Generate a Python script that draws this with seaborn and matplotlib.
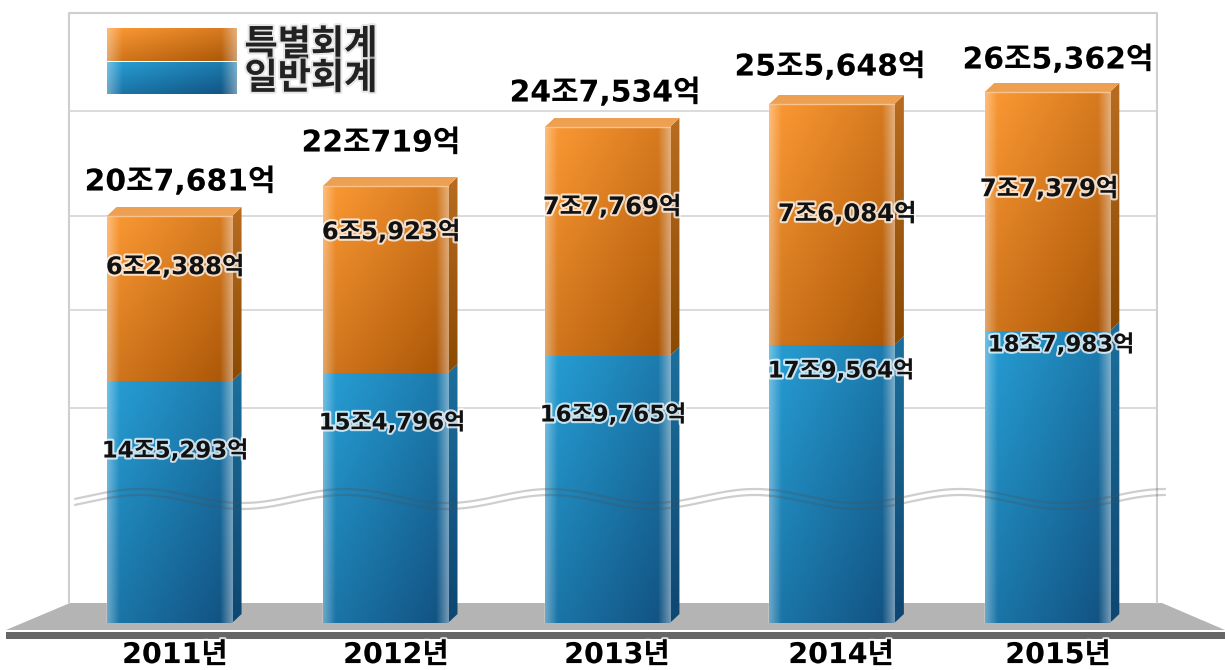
import matplotlib
matplotlib.use('Agg')
import matplotlib.pyplot as plt
import matplotlib.patheffects as pe
from matplotlib.patches import Polygon
import numpy as np
import pandas as pd
import seaborn as sns

years = ['2011년', '2012년', '2013년', '2014년', '2015년']
# the picture is not drawn to scale, so bar heights are read off the picture
general_height = [242, 250, 267, 278, 292]
special_height = [165, 187, 229, 241, 239]
general_labels = ['14조5,293억', '15조4,796억', '16조9,765억', '17조9,564억', '18조7,983억']
special_labels = ['6조2,388억', '6조5,923억', '7조7,769억', '7조6,084억', '7조7,379억']
total_labels = ['20조7,681억', '22조719억', '24조7,534억', '25조5,648억', '26조5,362억']
legend_names = ['특별회계', '일반회계']

W, H = 1225, 670
ORANGE = ('#fd9a35', '#a95506', '#b86c20', '#8a4a02')
BLUE = ('#27a0d6', '#11507f', '#1c6f9c', '#0e4670')
FONT = ['DejaVu Sans', 'Noto Sans CJK KR']

sns.set_theme(style='white')
plt.rcParams['font.family'] = FONT
plt.rcParams['font.weight'] = 'bold'


def rgb(c):
    return np.array(matplotlib.colors.to_rgb(c))


def face_image(c1, c2, fade=0.1, n=200):
    # diagonal gradient with pale left and right edges
    xx, yy = np.meshgrid(np.linspace(0, 1, n), np.linspace(0, 1, n))
    t = (0.5 * xx + 0.5 * yy)[..., None]
    img = rgb(c1) * (1 - t) + rgb(c2) * t
    left = np.clip(1 - xx / fade, 0, 1)[..., None] * 0.35
    right = np.clip((xx - (1 - fade)) / fade, 0, 1)[..., None] * 0.42
    glow = np.maximum(left, right)
    return img * (1 - glow) + glow


def side_image(c1, c2):
    t = np.linspace(0, 1, 100)[:, None, None]
    return rgb(c1) * (1 - t) + rgb(c2) * t


fig = plt.figure(figsize=(W / 100, H / 100), dpi=100)

# wall and floor, in picture pixels
bg = fig.add_axes([0, 0, 1, 1], zorder=0)
bg.set_xlim(0, W)
bg.set_ylim(H, 0)
bg.axis('off')
bg.plot([69, 69, 1157, 1157], [603, 13, 13, 603], color='#cfcfcf', lw=1.5)
bg.add_patch(Polygon([(70, 603), (1162, 603), (1225, 630), (6, 630)], color='#b4b4b4', lw=0))
bg.add_patch(Polygon([(6, 632), (1225, 632), (1225, 639), (6, 639)], color='#666666', lw=0))

# bars
ax = fig.add_axes([69 / W, (H - 623) / H, (1157 - 69) / W, 610 / H], zorder=1)
ax.patch.set_alpha(0)
df = pd.DataFrame({'year': years, 'general': general_height, 'special': special_height})
sns.barplot(data=df, x='year', y='general', color=BLUE[0], width=0.57, ax=ax)
sns.barplot(data=df, x='year', y='special', bottom=df['general'], color=ORANGE[0], width=0.57, ax=ax)
xlim = (-0.458, 4.5)
ylim = (0, 610)

px = 219.4  # pixels per category
bar_nudge = [0, -3.5, -1, 4, 0]
dx = 9.5 / px
dy = 9
for n, bar in enumerate(ax.patches):
    colors = BLUE if n < len(years) else ORANGE
    bar.set_x(bar.get_x() + bar_nudge[n % len(years)] / px)
    x0, x1 = bar.get_x(), bar.get_x() + bar.get_width()
    y0, y1 = bar.get_y(), bar.get_y() + bar.get_height()
    ax.imshow(face_image(colors[0], colors[1]), extent=(x0, x1, y0, y1), aspect='auto', zorder=3)
    # right side of the box
    side = Polygon([(x1, y0), (x1 + dx, y0 + dy), (x1 + dx, y1 + dy), (x1, y1)],
                   transform=ax.transData, lw=0, fc='none')
    ax.add_patch(side)
    im = ax.imshow(side_image(colors[2], colors[3]), extent=(x1, x1 + dx, y0, y1 + dy),
                   aspect='auto', zorder=2.5 + n * 0.01)
    im.set_clip_path(side)
    # top of the box, only the upper one shows
    if n >= len(years):
        ax.add_patch(Polygon([(x0, y1), (x0 + dx, y1 + dy), (x1 + dx, y1 + dy), (x1, y1)],
                             fc='#eda052', lw=0, zorder=3))
        ax.plot([x0, x1], [y1, y1], color='#f9c48c', lw=1, zorder=3.5)

ax.set_xticks([(x - 169.5) / px for x in (175, 396, 617, 841, 1058)], years)
ax.set_xlim(xlim)
ax.set_ylim(ylim)
ax.set_xlabel('')
ax.set_ylabel('')
ax.set_yticks([215, 313, 407, 512])
ax.set_yticklabels([])
ax.grid(axis='y', color='#d4d4d4', lw=1.2)
ax.set_axisbelow(True)
sns.despine(ax=ax, left=True, bottom=True)
halo = [pe.withStroke(linewidth=3, foreground='white', alpha=0.75)]
ax.tick_params(axis='x', length=0, pad=13)
for lab in ax.get_xticklabels():
    lab.set_fontsize(20.5)
    lab.set_fontweight('bold')
    lab.set_color('black')
    lab.set_path_effects(halo)

# wave, legend and value labels, in picture pixels
top = fig.add_axes([0, 0, 1, 1], zorder=2)
top.set_xlim(0, W)
top.set_ylim(H, 0)
top.axis('off')
top.patch.set_alpha(0)

wx = np.linspace(75, 1165, 400)
wy = 496 - 7 * np.cos(2 * np.pi * (wx - 140) / 205)
for off in (0, 6):
    top.plot(wx, wy + off, color='#505050', alpha=0.28, lw=1.6)

for name, colors, y0, y1 in zip(legend_names, (ORANGE, BLUE), (28, 62), (61, 94)):
    top.imshow(face_image(colors[0], colors[1], fade=0.12), extent=(107, 237, y1, y0), aspect='auto')
    top.text(311, (y0 + y1) / 2 + 1, name, ha='center', va='center', fontsize=26, color='#222222',
             path_effects=[pe.withStroke(linewidth=3, foreground='#dddddd', alpha=0.7)])
top.set_xlim(0, W)
top.set_ylim(H, 0)

total_x = [180, 381, 605, 830, 1058]
total_y = [182, 143, 93, 67, 60]
special_x = [175, 391, 612, 847, 1049]
special_y = [267, 232, 207, 214, 189]
general_x = [175, 392, 613, 841, 1061]
general_y = [451, 423, 415, 371, 345]
for i in range(len(years)):
    top.text(total_x[i], total_y[i], total_labels[i], ha='center', va='center', fontsize=21.5,
             color='black', path_effects=halo)
    top.text(special_x[i], special_y[i], special_labels[i], ha='center', va='center', fontsize=17.5,
             color='#111111', path_effects=halo)
    top.text(general_x[i], general_y[i], general_labels[i], ha='center', va='center', fontsize=16.5,
             color='#111111', path_effects=halo)

fig.savefig('out.png', dpi=100)
